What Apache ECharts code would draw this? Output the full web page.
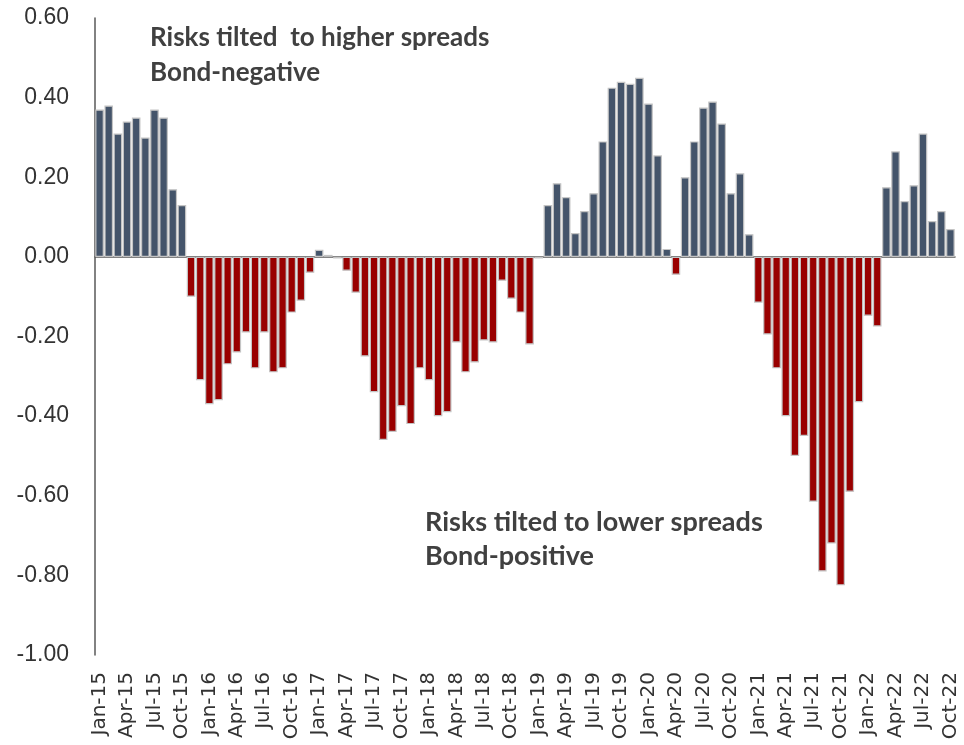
<!DOCTYPE html>
<html>
<head>
<meta charset="utf-8">
<script src="https://cdn.jsdelivr.net/npm/echarts@6/dist/echarts.min.js"></script>
<style>
  html, body { margin: 0; padding: 0; background: #fff; }
  #chart { width: 964px; height: 745px; }
</style>
</head>
<body>
<div id="chart"></div>
<script>
// monthly Jan-15 .. Oct-22
const years = ['15', '16', '17', '18', '19', '20', '21', '22']
const monthNames = ['Jan', 'Feb', 'Mar', 'Apr', 'May', 'Jun', 'Jul', 'Aug', 'Sep', 'Oct', 'Nov', 'Dec']
const months = []
years.forEach(y => {
  monthNames.forEach(m => {
    if (months.length < 94) months.push(m + '-' + y)
  })
})

// values
const v2015 = [0.37, 0.38, 0.31, 0.34, 0.35, 0.30, 0.37, 0.35, 0.17, 0.13, -0.10, -0.31]
const v2016 = [-0.37, -0.36, -0.27, -0.24, -0.19, -0.28, -0.19, -0.29, -0.28, -0.14, -0.11, -0.04]
const v2017 = [0.018, 0.005, -0.004, -0.035, -0.09, -0.25, -0.34, -0.46, -0.44, -0.375, -0.42, -0.28]
const v2018 = [-0.31, -0.40, -0.39, -0.215, -0.29, -0.265, -0.21, -0.215, -0.06, -0.105, -0.14, -0.22]
const v2019 = [-0.004, 0.13, 0.185, 0.15, 0.06, 0.115, 0.16, 0.29, 0.425, 0.44, 0.435, 0.45]
const v2020 = [0.385, 0.255, 0.02, -0.045, 0.20, 0.29, 0.375, 0.39, 0.335, 0.16, 0.21, 0.057]
const v2021 = [-0.115, -0.195, -0.28, -0.40, -0.50, -0.45, -0.615, -0.79, -0.72, -0.825, -0.59, -0.365]
const v2022 = [-0.148, -0.175, 0.175, 0.265, 0.14, 0.18, 0.31, 0.09, 0.115, 0.07]

const values = [].concat(v2015, v2016, v2017, v2018, v2019, v2020, v2021, v2022)

const blue = '#44546A'
const red = '#990000'

let chart = echarts.init(document.getElementById('chart'))
let option = {
  animation: false,
  backgroundColor: '#fff',
  grid: { left: 95, right: 9, top: 18, bottom: 90 },
  xAxis: [
    {
      type: 'category',
      data: months,
      axisLine: { onZero: true, lineStyle: { color: '#595959', width: 1.5 } },
      axisTick: { interval: 2, length: 6, lineStyle: { color: '#595959', width: 1.5 } },
      axisLabel: { show: false }
    },
    {
      type: 'category',
      data: months,
      position: 'bottom',
      axisLine: { show: false },
      axisTick: { show: false },
      axisLabel: {
        interval: 2,
        rotate: 90,
        margin: 17,
        fontSize: 20,
        color: '#333',
        fontFamily: 'DejaVu Sans'
      }
    }
  ],
  yAxis: {
    type: 'value',
    min: -1,
    max: 0.6,
    interval: 0.2,
    splitLine: { show: false },
    axisLine: { show: true, lineStyle: { color: '#595959', width: 1.5 } },
    axisTick: { show: false },
    axisLabel: {
      margin: 26,
      fontSize: 23,
      color: '#333',
      fontFamily: 'Liberation Sans',
      formatter: v => v.toFixed(2)
    }
  },
  series: [{
    type: 'bar',
    xAxisIndex: 0,
    barCategoryGap: '6%',
    data: values.map(v => ({
      value: v,
      itemStyle: { color: v >= 0 ? blue : red }
    })),
    itemStyle: { borderColor: '#C4C4C4', borderWidth: 1.2 }
  }],
  graphic: [
    {
      type: 'text', left: 150, top: 20,
      style: {
        text: 'Risks tilted  to higher spreads\nBond-negative',
        font: 'bold 26px Lato', fill: '#404040', lineHeight: 35
      }
    },
    {
      type: 'text', left: 425, top: 505,
      style: {
        text: 'Risks tilted to lower spreads\nBond-positive',
        font: 'bold 27px Lato', fill: '#404040', lineHeight: 34
      }
    }
  ]
}
chart.setOption(option)
</script>
</body>
</html>
